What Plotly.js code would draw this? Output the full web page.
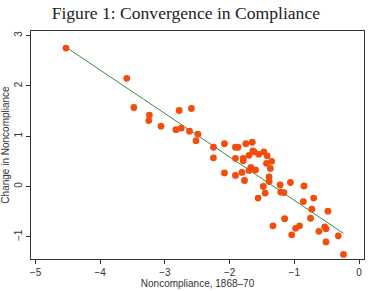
<!DOCTYPE html>
<html>
<head>
<meta charset="utf-8">
<script src="https://cdn.plot.ly/plotly-3.0.1.min.js"></script>
<style>
  html, body { margin: 0; padding: 0; background: #fff; }
  #chart { width: 368px; height: 291px; }
</style>
</head>
<body>
<div id="chart"></div>
<script>
// Noncompliance in 1868–70 (x) against the later change in noncompliance (y)
const noncompliance = [
  -4.53, -3.59, -3.48, -3.24, -3.25, -3.06, -2.78, -2.59, -2.83, -2.75,
  -2.62, -2.49, -2.52, -2.25, -2.25, -2.08, -2.08, -1.91, -1.87, -1.91,
  -1.91, -1.79, -1.79, -1.81, -1.77, -1.75, -1.65, -1.70, -1.64, -1.62,
  -1.55, -1.47, -1.42, -1.43, -1.35, -1.67, -1.70, -1.60, -1.37, -1.39,
  -1.39, -1.48, -1.45, -1.56, -1.22, -1.06, -1.21, -1.16, -0.85, -0.86,
  -0.70, -0.73, -0.48, -0.75, -1.15, -1.33, -0.92, -0.98, -1.04, -0.62,
  -0.53, -0.51, -0.51, -0.32, -0.24
];
const changeInNoncompliance = [
   2.75,  2.15,  1.57,  1.42,  1.31,  1.20,  1.51,  1.55,  1.13,  1.16,
   1.10,  1.04,  0.91,  0.78,  0.57,  0.85,  0.27,  0.78,  0.78,  0.56,
   0.22,  0.56,  0.51,  0.28,  0.12,  0.85,  0.88,  0.62,  0.71,  0.69,
   0.64,  0.69,  0.61,  0.46,  0.50,  0.38,  0.32,  0.33,  0.36,  0.19,
   0.10,  0.00, -0.13, -0.23,  0.03,  0.08, -0.11, -0.12,  0.01, -0.30,
  -0.23, -0.45, -0.49, -0.63, -0.64, -0.78, -0.78, -0.83, -0.96, -0.89,
  -0.80, -0.84, -1.10, -0.98, -1.35
];

// Fitted linear trend, drawn between its two end points
const fitX = [-4.53, -0.24];
const fitY = [2.77, -0.93];

// Axis ticks
const xTicks = [-5, -4, -3, -2, -1, 0];
const yTicks = [-1, 0, 1, 2, 3];

const axisFont = { family: 'Liberation Sans, Arial, sans-serif', size: 10, color: '#333' };

const traces = [
  {
    x: fitX, y: fitY,
    type: 'scatter', mode: 'lines',
    line: { color: '#3a8a3e', width: 1 },
    hoverinfo: 'skip'
  },
  {
    x: noncompliance, y: changeInNoncompliance,
    type: 'scatter', mode: 'markers',
    marker: { color: '#f24d0c', size: 6.8, line: { width: 0 } }
  }
];

const layout = {
  width: 368, height: 291,
  margin: { l: 31, r: 4, t: 31, b: 32 },
  paper_bgcolor: '#ffffff',
  plot_bgcolor: '#ffffff',
  showlegend: false,
  title: {
    text: 'Figure 1: Convergence in Compliance',
    font: { family: 'Liberation Serif, DejaVu Serif, serif', size: 17.6, color: '#222' },
    x: 0.505, xref: 'container', xanchor: 'center',
    y: 0.957, yref: 'container', yanchor: 'middle'
  },
  xaxis: {
    range: [-5.07, 0.077],
    tickvals: xTicks,
    ticks: 'outside', ticklen: 4, tickwidth: 1, tickcolor: '#333',
    showline: true, linecolor: '#333', linewidth: 1, mirror: true,
    showgrid: false, zeroline: false,
    tickfont: axisFont,
    title: { text: 'Noncompliance, 1868–70', font: axisFont, standoff: 2 }
  },
  yaxis: {
    range: [-1.44, 3.09],
    tickvals: yTicks,
    tickangle: -90,
    ticks: 'outside', ticklen: 4, tickwidth: 1, tickcolor: '#333',
    showline: true, linecolor: '#333', linewidth: 1, mirror: true,
    showgrid: false, zeroline: false,
    tickfont: axisFont,
    title: { text: 'Change in Noncompliance', font: axisFont, standoff: 4 }
  }
};

Plotly.newPlot('chart', traces, layout, { displayModeBar: false, staticPlot: true });
</script>
</body>
</html>
